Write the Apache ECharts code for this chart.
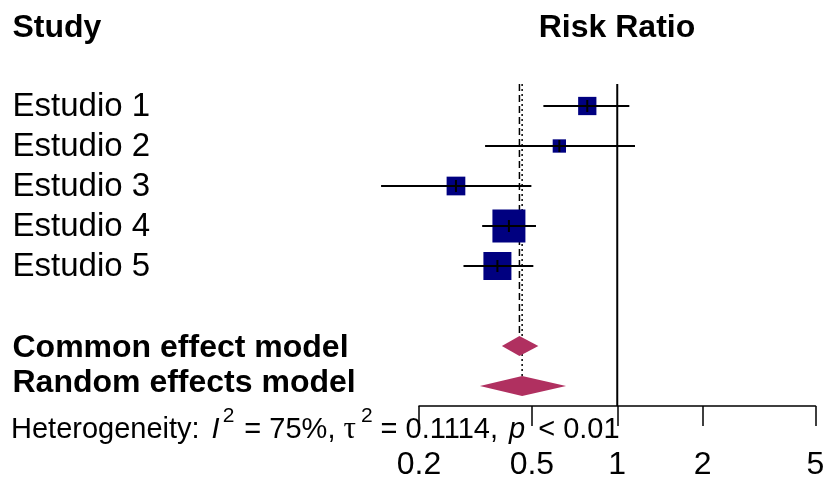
<!DOCTYPE html>
<html>
<head>
<meta charset="utf-8">
<script src="https://cdn.jsdelivr.net/npm/echarts@6/dist/echarts.min.js"></script>
<style>
  html, body { margin: 0; padding: 0; background: #ffffff; }
  #chart { width: 824px; height: 482px; }
</style>
</head>
<body>
<div id="chart"></div>
<script>
// Individual studies: risk ratio with 95% CI and relative weight (%)
const studies = ['Estudio 1', 'Estudio 2', 'Estudio 3', 'Estudio 4', 'Estudio 5'];
const studyRR = [0.784, 0.625, 0.270, 0.415, 0.378];
const studyLower = [0.549, 0.342, 0.147, 0.334, 0.287];
const studyUpper = [1.103, 1.155, 0.498, 0.517, 0.506];
const studyWeight = [12.2, 6.5, 12.8, 39.8, 28.7];

// Pooled estimates
const pooledNames = ['Common effect model', 'Random effects model'];
const pooledRR = [0.452, 0.462];
const pooledLower = [0.392, 0.328];
const pooledUpper = [0.527, 0.660];

// Axis ticks (risk ratio scale, drawn on log10)
const tickValues = [0.2, 0.5, 1, 2, 5];

const FONT = '"Liberation Sans", Arial, sans-serif';
const NAVY = '#000080';
const MAROON = '#B03060';
const DIAMOND_HALF = 10;   // px, half height of the pooled diamonds
const SQUARE_SCALE = 5.23; // px per sqrt(weight %)

const lg = Math.log10;
const studyRows = studies.map((_, i) => i + 1);
const pooledRows = [7, 8];

const studyData = studies.map((_, i) => [lg(studyRR[i]), lg(studyLower[i]), lg(studyUpper[i]), studyRows[i], studyWeight[i]]);
const pooledData = pooledNames.map((_, i) => [lg(pooledRR[i]), lg(pooledLower[i]), lg(pooledUpper[i]), pooledRows[i]]);

// Reference lines: null effect (solid), common (dashed), random (dotted)
const refLines = [
  [lg(1), 'solid', null],
  [lg(pooledRR[0]), 'dashed', pooledRows[0]],
  [lg(pooledRR[1]), 'dotted', pooledRows[1]]
];

const rowLabel = {};
studies.forEach((s, i) => { rowLabel[studyRows[i]] = '{e|' + s + '}'; });
rowLabel[pooledRows[0]] = '{c|' + pooledNames[0] + '}';
rowLabel[pooledRows[1]] = '{r|' + pooledNames[1] + '}';

const chart = echarts.init(document.getElementById('chart'), null, { renderer: 'canvas' });

const boldLabel = { fontWeight: 'bold', fontFamily: FONT, fontSize: 32, color: '#000' };
const txt = { fontFamily: FONT, fontSize: 29, lineHeight: 50, color: '#000' };
const sup = { fontFamily: FONT, fontSize: 21, lineHeight: 21, verticalAlign: 'top', color: '#000' };

const option = {
  animation: false,
  backgroundColor: '#ffffff',
  grid: {
    left: 419, right: 8.5, top: 84, height: 322,
    containLabel: false, outerBoundsMode: 'none'
  },
  xAxis: {
    type: 'value',
    min: lg(tickValues[0]),
    max: lg(tickValues[tickValues.length - 1]),
    axisLine: { show: true, lineStyle: { color: '#000', width: 1.5 } },
    axisTick: { show: true, length: 20, customValues: tickValues.map(lg), lineStyle: { color: '#000', width: 1.5 } },
    axisLabel: {
      customValues: tickValues.map(lg),
      margin: 43,
      color: '#000',
      fontFamily: FONT,
      fontSize: 32,
      formatter: v => {
        const t = tickValues.find(t => Math.abs(lg(t) - v) < 1e-9);
        return t === undefined ? '' : String(t);
      }
    },
    splitLine: { show: false }
  },
  yAxis: {
    type: 'value',
    inverse: true,
    min: 0.45,
    max: 8.5,
    axisLine: { show: false },
    axisTick: { show: false },
    splitLine: { show: false },
    axisLabel: {
      customValues: studyRows.concat(pooledRows),
      align: 'left',
      margin: 406.5,
      color: '#000',
      fontFamily: FONT,
      fontSize: 33,
      formatter: v => rowLabel[v] || '',
      rich: {
        e: { fontFamily: FONT, fontSize: 33, color: '#000', padding: [2, 0, 0, 0] },
        c: Object.assign({ padding: [5, 0, 0, 0] }, boldLabel),
        r: Object.assign({ padding: [0, 0, 5, 0] }, boldLabel)
      }
    }
  },
  graphic: [
    {
      type: 'text', x: 12.5, y: 28,
      style: { text: 'Study', font: 'bold 32px ' + FONT, fill: '#000', textVerticalAlign: 'middle' }
    },
    {
      type: 'text', x: 617, y: 28,
      style: { text: 'Risk Ratio', font: 'bold 32px ' + FONT, fill: '#000', textAlign: 'center', textVerticalAlign: 'middle' }
    },
    {
      type: 'text', x: 11, y: 430.3, z: 100,
      style: {
        text: '{n|Heterogeneity:}{i1|I}{s1|2}{e1|= 75%,}{t|τ}{s2|2}{e2|= 0.1114,}{i2|p}{e3|< 0.01}',
        textVerticalAlign: 'middle',
        fill: '#000',
        rich: {
          n: txt,
          i1: Object.assign({}, txt, { fontStyle: 'italic', padding: [0, 0, 0, 12] }),
          s1: Object.assign({}, sup, { padding: [0, 0, 0, 3] }),
          e1: Object.assign({}, txt, { padding: [0, 0, 0, 10] }),
          t: Object.assign({}, txt, { fontFamily: '"Liberation Serif", serif', fontSize: 31, padding: [0, 0, 0, 8] }),
          s2: Object.assign({}, sup, { padding: [0, 0, 0, 5] }),
          e2: Object.assign({}, txt, { padding: [0, 0, 0, 8] }),
          i2: Object.assign({}, txt, { fontStyle: 'italic', padding: [0, 0, 0, 11] }),
          e3: Object.assign({}, txt, { padding: [0, 0, 0, 13] })
        }
      }
    }
  ],
  series: [
    {
      type: 'custom',
      name: 'refLines',
      silent: true,
      z: 1,
      data: refLines,
      renderItem: (params, api) => {
        const x = api.value(0);
        const style = refLines[params.dataIndex][1];
        const stopRow = refLines[params.dataIndex][2];
        const top = api.coord([x, 0.45]);
        let bottomY;
        if (stopRow === null) {
          bottomY = api.coord([x, 8.5])[1];
        } else {
          bottomY = api.coord([x, stopRow])[1] - DIAMOND_HALF;
        }
        const dash = style === 'dashed' ? [7, 4] : style === 'dotted' ? [2, 3] : null;
        return {
          type: 'line',
          shape: { x1: top[0], y1: top[1], x2: top[0], y2: bottomY },
          style: { stroke: '#000', lineWidth: style === 'solid' ? 2 : 1.5, lineDash: dash }
        };
      }
    },
    {
      type: 'custom',
      name: 'studies',
      silent: true,
      z: 3,
      data: studyData,
      renderItem: (params, api) => {
        const row = api.value(3);
        const pE = api.coord([api.value(0), row]);
        const pL = api.coord([api.value(1), row]);
        const pU = api.coord([api.value(2), row]);
        const side = SQUARE_SCALE * Math.sqrt(api.value(4));
        return {
          type: 'group',
          children: [
            {
              type: 'rect',
              shape: { x: pE[0] - side / 2, y: pE[1] - side / 2, width: side, height: side },
              style: { fill: NAVY }
            },
            {
              type: 'line',
              shape: { x1: pL[0], y1: pL[1], x2: pU[0], y2: pU[1] },
              style: { stroke: '#000', lineWidth: 2 }
            },
            {
              type: 'line',
              shape: { x1: pE[0], y1: pE[1] - 6, x2: pE[0], y2: pE[1] + 6 },
              style: { stroke: '#000', lineWidth: 2 }
            }
          ]
        };
      }
    },
    {
      type: 'custom',
      name: 'pooled',
      silent: true,
      z: 3,
      data: pooledData,
      renderItem: (params, api) => {
        const row = api.value(3);
        const pE = api.coord([api.value(0), row]);
        const pL = api.coord([api.value(1), row]);
        const pU = api.coord([api.value(2), row]);
        return {
          type: 'polygon',
          shape: {
            points: [
              [pL[0], pL[1]],
              [pE[0], pE[1] - DIAMOND_HALF],
              [pU[0], pU[1]],
              [pE[0], pE[1] + DIAMOND_HALF]
            ]
          },
          style: { fill: MAROON }
        };
      }
    }
  ]
};

chart.setOption(option);
</script>
</body>
</html>
